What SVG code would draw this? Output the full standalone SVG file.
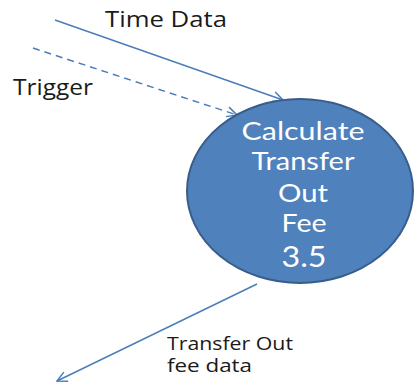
<svg xmlns="http://www.w3.org/2000/svg" width="414" height="383" viewBox="0 0 414 383">
<defs>
<style>
.conn{fill:none;stroke:#4A7EBB;stroke-width:1.5}
.dash{stroke-dasharray:7,5}
.lbl{font-family:"Open Sans","Noto Sans",sans-serif;fill:#1a1a1a}
.in{font-family:Lato,"Open Sans",sans-serif;fill:#ffffff;text-anchor:middle}
</style>
<marker id="arr" viewBox="0 0 12 12" refX="11" refY="6" markerWidth="12" markerHeight="12" markerUnits="userSpaceOnUse" orient="auto">
<path d="M1,1 L11,6 L1,11" fill="none" stroke="#4A7EBB" stroke-width="1.5"/>
</marker>
</defs>
<rect width="414" height="383" fill="#ffffff"/>
<g id="connectors">
<line class="conn" x1="55" y1="20" x2="283" y2="100" marker-end="url(#arr)"/>
<line class="conn dash" x1="33" y1="48" x2="237" y2="115" marker-end="url(#arr)"/>
<line class="conn" x1="257" y1="284" x2="57" y2="381" marker-end="url(#arr)"/>
</g>
<g id="labels">
<text class="lbl" x="105" y="27" font-size="21" textLength="122" lengthAdjust="spacingAndGlyphs">Time Data</text>
<text class="lbl" x="13" y="95" font-size="21" textLength="80" lengthAdjust="spacingAndGlyphs">Trigger</text>
<text class="lbl" x="167" y="350" font-size="18" textLength="126" lengthAdjust="spacingAndGlyphs">Transfer Out</text>
<text class="lbl" x="167" y="372" font-size="18" textLength="85" lengthAdjust="spacingAndGlyphs">fee data</text>
</g>
<g id="node-3.5">
<ellipse cx="300" cy="191" rx="113" ry="92" fill="#4F81BD" stroke="#385D8A" stroke-width="2"/>
<text class="in" x="303" y="140" font-size="24.5" textLength="123" lengthAdjust="spacingAndGlyphs">Calculate</text>
<text class="in" x="303" y="170" font-size="24.5" textLength="103" lengthAdjust="spacingAndGlyphs">Transfer</text>
<text class="in" x="303" y="202" font-size="24.5" textLength="50" lengthAdjust="spacingAndGlyphs">Out</text>
<text class="in" x="304" y="232" font-size="24.5" textLength="45" lengthAdjust="spacingAndGlyphs">Fee</text>
<text class="in" x="304" y="267" font-size="29" textLength="45" lengthAdjust="spacingAndGlyphs">3.5</text>
</g>
</svg>
